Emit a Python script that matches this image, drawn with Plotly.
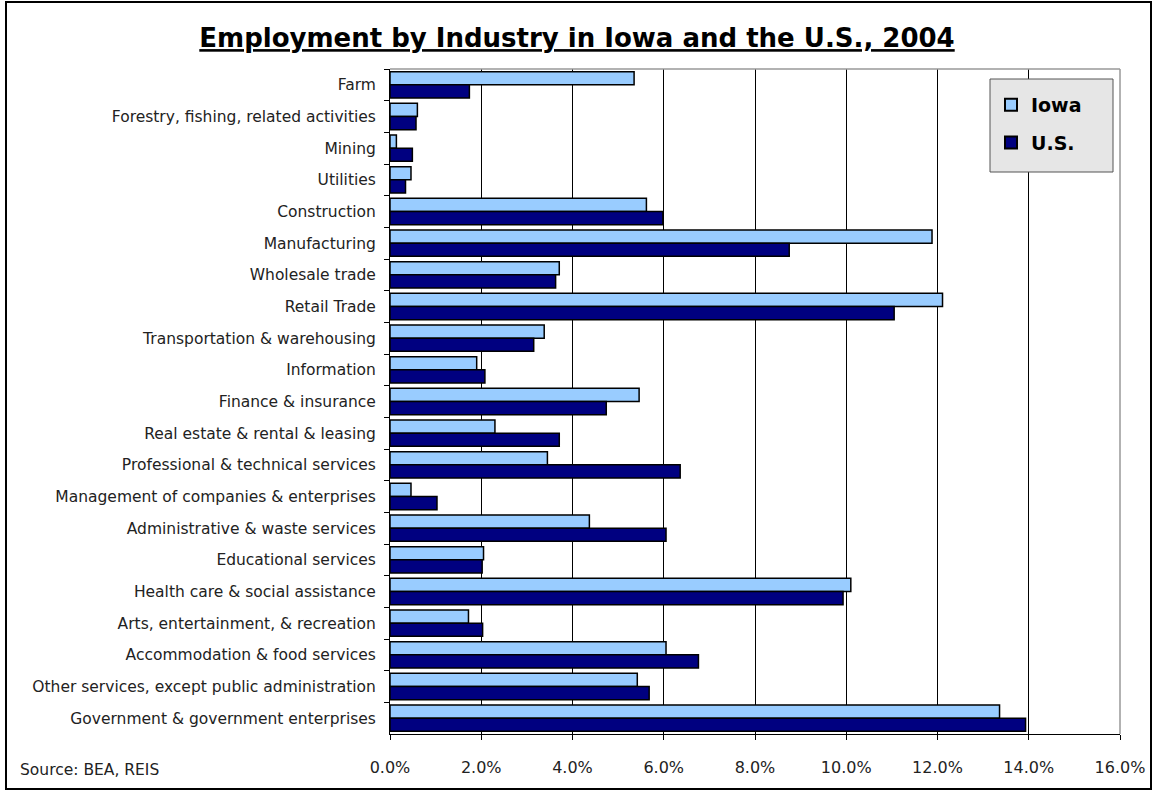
import plotly.graph_objects as go

industries = [
    "Farm", "Forestry, fishing, related activities", "Mining", "Utilities",
    "Construction", "Manufacturing", "Wholesale trade", "Retail Trade",
    "Transportation & warehousing", "Information", "Finance & insurance",
    "Real estate & rental & leasing", "Professional & technical services",
    "Management of companies & enterprises", "Administrative & waste services",
    "Educational services", "Health care & social assistance",
    "Arts, entertainment, & recreation", "Accommodation & food services",
    "Other services, except public administration",
    "Government & government enterprises",
]
iowa = [5.35, 0.60, 0.14, 0.46, 5.62, 11.88, 3.71, 12.11, 3.38, 1.90, 5.46,
        2.30, 3.45, 0.46, 4.37, 2.05, 10.10, 1.72, 6.05, 5.42, 13.36]
us = [1.74, 0.57, 0.49, 0.34, 5.98, 8.75, 3.63, 11.05, 3.15, 2.08, 4.74,
      3.71, 6.36, 1.03, 6.05, 2.02, 9.93, 2.03, 6.76, 5.68, 13.93]
x_ticks = [0, 2, 4, 6, 8, 10, 12, 14, 16]
x_tick_labels = ["0.0%", "2.0%", "4.0%", "6.0%", "8.0%", "10.0%", "12.0%", "14.0%", "16.0%"]

W, H = 1154, 792
L, R, T, B = 390, 34, 69, 58
pw, ph = W - L - R, H - T - B


def px_x(p):
    return (p - L) / pw


def px_y(p):
    return (H - B - p) / ph


fig = go.Figure()
fig.add_trace(go.Bar(y=industries, x=iowa, name="Iowa", orientation="h", legendgroup="a",
                     marker=dict(color="#99CCFF", line=dict(color="#000000", width=1.5))))
fig.add_trace(go.Bar(y=industries, x=us, name="U.S.", orientation="h", legendgroup="b",
                     marker=dict(color="#000080", line=dict(color="#000000", width=1.5))))

fig.update_layout(
    width=W, height=H,
    margin=dict(l=L, r=R, t=T, b=B, autoexpand=False),
    paper_bgcolor="white", plot_bgcolor="white",
    barmode="group", bargap=0.17, bargroupgap=0,
    title=dict(text="<b><u>Employment by Industry in Iowa and the U.S., 2004</u></b>",
               x=0.5, xref="container", xanchor="center", y=1 - 38 / H, yref="container",
               yanchor="middle",
               font=dict(family="DejaVu Sans", size=26, color="black")),
    showlegend=True,
    legend=dict(x=px_x(991), y=px_y(86), xanchor="left", yanchor="top",
                bgcolor="rgba(0,0,0,0)", borderwidth=0,
                font=dict(family="DejaVu Sans", size=19, color="black", weight="bold"),
                itemsizing="constant", tracegroupgap=10, itemwidth=30),
    font=dict(family="DejaVu Sans", size=15.5, color="black"),
    xaxis=dict(range=[0, 16], tickvals=x_ticks, ticktext=x_tick_labels,
               showgrid=True, gridcolor="#000000", gridwidth=1, zeroline=False,
               showline=True, linecolor="#000000", linewidth=1,
               ticks="outside", ticklen=5, tickcolor="#000000",
               tickfont=dict(family="DejaVu Sans", size=16, color="#222222"),
               ticklabelstandoff=14, fixedrange=True, automargin=False),
    yaxis=dict(autorange="reversed", showline=True, linecolor="#000000", linewidth=1,
               ticks="outside", ticklen=5, tickcolor="#000000", tickson="boundaries",
               showgrid=False, tickfont=dict(family="DejaVu Sans", size=15.5, color="#222222"),
               ticklabelstandoff=10, fixedrange=True, automargin=False),
)

# plot area top/right border in gray
fig.add_shape(type="line", xref="paper", yref="paper", x0=0, x1=1, y0=1, y1=1,
              line=dict(color="#999999", width=1.5))
fig.add_shape(type="line", xref="paper", yref="paper", x0=1, x1=1, y0=0, y1=1,
              line=dict(color="#999999", width=1.5))
# legend box
fig.add_shape(type="rect", xref="paper", yref="paper", layer="above",
              x0=px_x(990), x1=px_x(1113), y0=px_y(172), y1=px_y(79),
              line=dict(color="#555555", width=1), fillcolor="#E6E6E6")
# outer frame
fig.add_shape(type="rect", xref="paper", yref="paper",
              x0=px_x(6), x1=px_x(1151), y0=px_y(789), y1=px_y(2),
              line=dict(color="#000000", width=2), fillcolor="rgba(0,0,0,0)")

fig.add_annotation(text="Source: BEA, REIS", xref="paper", yref="paper",
                   x=px_x(18), y=px_y(770), xanchor="left", yanchor="middle",
                   showarrow=False, font=dict(family="DejaVu Sans", size=15.5, color="#222222"))

fig.write_html("out.html", config={"displayModeBar": False},
               post_script="document.body.style.margin='0px';document.body.style.overflow='hidden';")
